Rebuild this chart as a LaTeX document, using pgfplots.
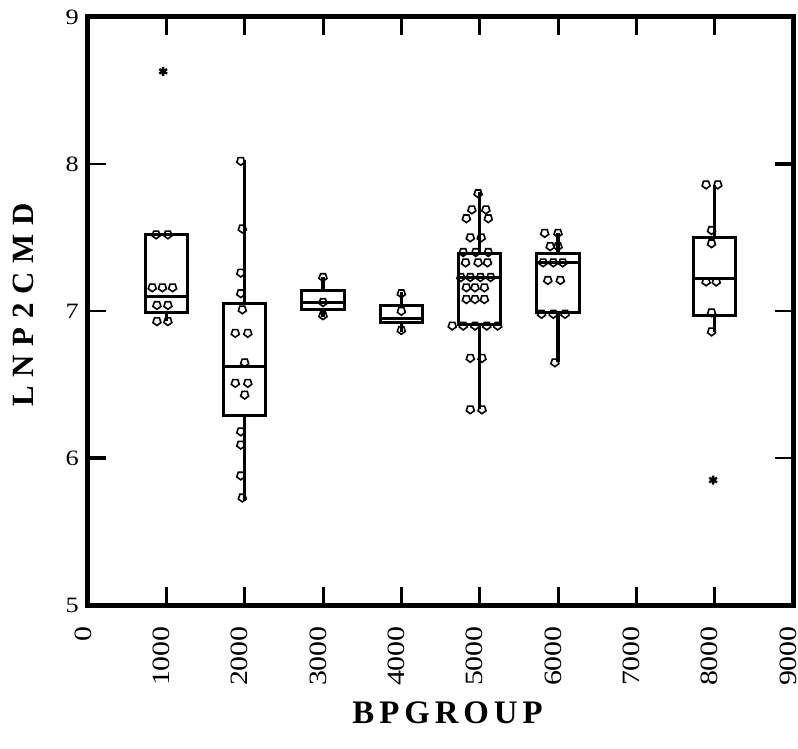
\documentclass[border=0pt]{standalone}
\usepackage{fontspec}
\setmainfont{Liberation Serif}
\newfontfamily\ytickfont[FakeStretch=1.2]{Liberation Serif}
\newfontfamily\xtickfont[FakeStretch=1.2]{Liberation Serif}
\newfontfamily\xlabelfont[LetterSpace=15]{Liberation Serif Bold}
\newfontfamily\ylabelfont[LetterSpace=28]{Liberation Serif Bold}
\usepackage{pgfplots}
\pgfplotsset{compat=1.18}

\pgfplotsset{
  bxl/.style={black, line width=3.2bp, solid, no markers, sharp plot, line join=miter, forget plot},
  tk/.style={black, line width=4.5bp, solid, no markers, sharp plot, forget plot},
  pts/.style={only marks, mark=pentagon, mark size=4.2bp,
    mark options={rotate=180, line width=1.6bp, draw=black, fill=white}},
  outl/.style={only marks, mark=asterisk, mark size=4.5bp,
    mark options={line width=2.4bp, draw=black}},
}

% box and whiskers: position, box left, box right, lower whisker, Q1, median, Q3, upper whisker
\newcommand{\boxwhisk}[8]{%
  \addplot[bxl] coordinates {(#1,#4) (#1,#5)};
  \addplot[bxl] coordinates {(#1,#7) (#1,#8)};
  \addplot[bxl] coordinates {(#2,#5) (#3,#5) (#3,#7) (#2,#7) (#2,#5) (#3,#5)};
  \addplot[bxl] coordinates {(#2,#6) (#3,#6)};
}

\begin{document}
\begin{tikzpicture}
\begin{axis}[
  scale only axis,
  width=705bp, height=588bp,
  xmin=0, xmax=9000, ymin=5, ymax=9,
  xtick={0,1000,...,9000}, ytick={5,6,7,8,9},
  tick align=inside,
  major tick length=18bp,
  axis line style={line width=5bp, line cap=rect, line join=miter},
  xtick style={line width=3bp, black},
  ytick style={line width=2bp, black},
  /pgf/number format/1000 sep={},
  /pgf/number format/assume math mode=true,
  xticklabel style={font=\xtickfont\fontsize{25}{25}\selectfont, rotate=90, anchor=east, inner sep=0pt, xshift=-21bp, yshift=5bp},
  yticklabel style={font=\ytickfont\fontsize{22}{22}\selectfont, anchor=east, inner sep=0pt, xshift=-9bp},
  xlabel={BPGROUP}, ylabel={LNP2CMD},
  xlabel style={font=\xlabelfont\fontsize{33}{33}\selectfont, at={(axis description cs:0.51,-0.1837)}, anchor=center},
  ylabel style={font=\ylabelfont\fontsize{31}{31}\selectfont, at={(axis description cs:-0.0922,0.51)}, anchor=center},
  clip=false,
]
% heavier tick strokes: y=6 on the left, y=8 on the right
\addplot[tk] coordinates {(0,6) (230,6)};
\addplot[tk] coordinates {(8770,8) (9000,8)};
% group 1000
\boxwhisk{1000}{730}{1270}{6.93}{6.99}{7.10}{7.52}{7.52}
\addplot[pts] coordinates {(870,7.52) (1020,7.52) (820,7.16) (950,7.16) (1080,7.16) (880,7.04) (1020,7.04) (880,6.93) (1020,6.93)};
\addplot[outl] coordinates {(960,8.63)};
% group 2000
\boxwhisk{2000}{1730}{2270}{5.71}{6.29}{6.62}{7.05}{8.03}
\addplot[pts] coordinates {(1950,8.02) (1970,7.56) (1950,7.26) (1950,7.12) (1970,7.01) (1880,6.85) (2040,6.85) (2000,6.65) (1880,6.51) (2040,6.51) (2000,6.43) (1950,6.18) (1950,6.09) (1950,5.88) (1970,5.73)};
% group 3000
\boxwhisk{3000}{2730}{3270}{6.96}{7.01}{7.06}{7.14}{7.23}
\addplot[pts] coordinates {(3000,7.23) (3000,7.06) (3000,6.97)};
% group 4000
\boxwhisk{4000}{3730}{4270}{6.86}{6.92}{6.95}{7.04}{7.13}
\addplot[pts] coordinates {(4000,7.12) (4000,7.00) (4000,6.87)};
% group 5000
\boxwhisk{5000}{4730}{5270}{6.33}{6.91}{7.23}{7.39}{7.81}
\addplot[pts] coordinates {(4980,7.80) (4900,7.69) (5080,7.69) (4830,7.63) (5110,7.63) (4880,7.50) (5020,7.50)
  (4790,7.40) (4950,7.40) (5110,7.40) (4820,7.33) (4980,7.33) (5100,7.33)
  (4760,7.23) (4880,7.23) (5010,7.23) (5140,7.23) (4830,7.16) (4940,7.16) (5060,7.16)
  (4830,7.08) (4940,7.08) (5060,7.08) (4650,6.90) (4790,6.90) (4940,6.90) (5090,6.90) (5230,6.90)
  (4880,6.68) (5030,6.68) (4880,6.33) (5030,6.33)};
% group 6000
\boxwhisk{6000}{5730}{6270}{6.65}{6.99}{7.33}{7.39}{7.53}
\addplot[pts] coordinates {(5830,7.53) (6000,7.53) (5900,7.44) (6000,7.44) (5810,7.33) (5940,7.33) (6060,7.33)
  (5870,7.21) (6030,7.21) (5790,6.98) (5940,6.98) (6090,6.98) (5960,6.65)};
% group 8000
\boxwhisk{8000}{7730}{8270}{6.86}{6.97}{7.22}{7.50}{7.86}
\addplot[pts] coordinates {(7890,7.86) (8040,7.86) (7960,7.55) (7960,7.46) (7890,7.20) (8020,7.20) (7960,6.99) (7960,6.86)};
\addplot[outl] coordinates {(7980,5.85)};
\end{axis}
\pgfresetboundingbox
\path[use as bounding box] (-88bp,-144bp) rectangle (710bp,605bp);
\end{tikzpicture}
\end{document}
